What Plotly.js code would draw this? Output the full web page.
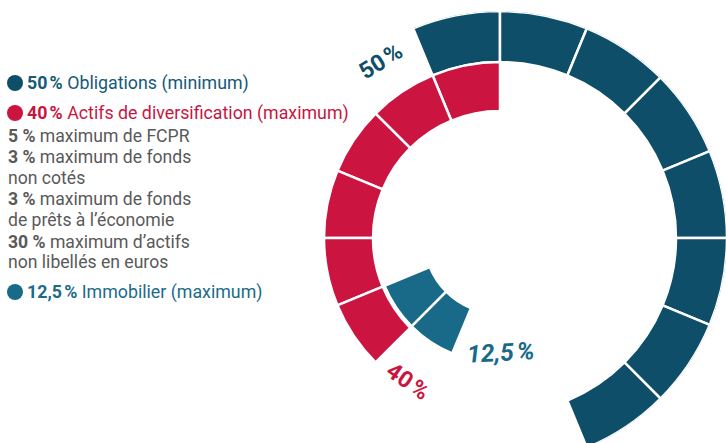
<!DOCTYPE html>
<html><head><meta charset="utf-8">
<script src="https://cdn.plot.ly/plotly-3.0.1.min.js"></script>
<style>html,body{margin:0;padding:0;overflow:hidden;background:#fff}#chart{width:730px;height:470px}</style>
</head><body><div id="chart"></div>
<script>
// ---- data ----
var categories = ['Obligations', 'Actifs de diversification', 'Immobilier'];
var shareLabels = ['50\u202F%', '40\u202F%', '12,5\u202F%'];
var segmentCounts = [8, 6, 2];          // number of 6,25 % blocks drawn per category
var segmentShare = 6.25;                // % represented by one block
var legendBold = ['50\u202F%', '40\u202F%', '12,5\u202F%'];
var legendText = ['Obligations (minimum)', 'Actifs de diversification (maximum)', 'Immobilier (maximum)'];
var detailBold = ['5 %', '3 %', '', '3 %', '', '30 %', ''];
var detailText = ['maximum de FCPR', 'maximum de fonds', 'non cotés', 'maximum de fonds', 'de prêts à l\u2019économie', 'maximum d\u2019actifs', 'non libellés en euros'];

// ---- style / layout ----
var W = 730, H = 470;
var colors = ['#0e4e69', '#cc1440', '#196a88'];
var textColors = ['#165a78', '#c8163f', '#1c6b89'];
var startDeg = [-22.5, 0, -112.5];      // where each ring starts (clockwise from north)
var dirSign = [1, -1, -1];
var ringBase = [176, 127, 76];
var ringThick = [51, 49, 49];
var FONT = 'Roboto, "DejaVu Sans", sans-serif';

function px(x){ return x / W; }
function py(y){ return 1 - y / H; }

var traces = [];
for (var k = 0; k < categories.length; k++) {
  var segDeg = segmentShare / 100 * 360;
  var th = [], rr = [], bb = [], ww = [];
  for (var i = 0; i < segmentCounts[k]; i++) {
    th.push(startDeg[k] + dirSign[k] * (i + 0.5) * segDeg);
    rr.push(ringThick[k]);
    bb.push(ringBase[k]);
    ww.push(segDeg);
  }
  traces.push({
    type: 'barpolar', name: categories[k],
    theta: th, r: rr, base: bb, width: ww,
    marker: {color: colors[k], line: {color: '#ffffff', width: 2.5}},
    hoverinfo: 'skip', showlegend: false
  });
}

var annotations = [];
function ann(x, y, text, opts) {
  var a = Object.assign({xref: 'paper', yref: 'paper', x: px(x), y: py(y), text: text,
    showarrow: false, xanchor: 'left', yanchor: 'middle',
    font: {family: FONT, size: 16, color: '#555'}}, opts || {});
  annotations.push(a);
}
// legend rows
var rowY = [83, 113, 292];
var shapes = [];
for (var k = 0; k < 3; k++) {
  shapes.push({type: 'circle', xref: 'paper', yref: 'paper',
    x0: px(7), x1: px(23), y0: py(rowY[k] - 8), y1: py(rowY[k] + 8),
    fillcolor: colors[k], line: {width: 0}});
  ann(25, rowY[k], '<b>' + legendBold[k] + '</b> ' + legendText[k], {font: {family: FONT, size: 17.8, color: textColors[k]}});
}
var detailY = [136, 157, 178, 199, 220, 242, 262];
for (var j = 0; j < detailText.length; j++) {
  ann(6, detailY[j], (detailBold[j] ? '<b>' + detailBold[j] + '</b> ' : '') + detailText[j], {font: {family: FONT, size: 17.6, color: '#595959'}});
}
// ring labels
ann(381, 62, '<b>' + shareLabels[0] + '</b>', {xanchor: 'center', textangle: -32, font: {family: FONT, size: 23, color: colors[0]}});
ann(408, 381, '<b>' + shareLabels[1] + '</b>', {xanchor: 'center', textangle: 35, font: {family: FONT, size: 23, color: colors[1]}});
ann(500, 352, '<b><i>' + shareLabels[2] + '</i></b>', {xanchor: 'center', textangle: -3, font: {family: FONT, size: 24.5, color: colors[2]}});

var layout = {
  width: W, height: H, margin: {l: 0, r: 0, t: 0, b: 0},
  paper_bgcolor: '#ffffff', plot_bgcolor: '#ffffff', showlegend: false,
  polar: {
    domain: {x: [px(273), px(727)], y: [py(465), py(11)]},
    bgcolor: 'rgba(0,0,0,0)', hole: 0, bargap: 0,
    radialaxis: {range: [0, 227], visible: false, showgrid: false},
    angularaxis: {rotation: 90, direction: 'clockwise', visible: false, showgrid: false, showline: false, showticklabels: false}
  },
  annotations: annotations, shapes: shapes
};
Plotly.newPlot('chart', traces, layout, {staticPlot: true, displayModeBar: false});
</script></body></html>
